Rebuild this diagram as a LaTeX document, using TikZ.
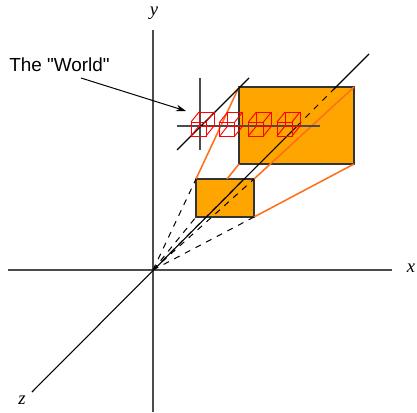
\documentclass[tikz,border=0pt]{standalone}
\usepackage{fontspec}
\newfontfamily\worldfont{Liberation Sans}
\newfontfamily\axisfont{Liberation Serif}
\usepackage{tikz}
\usetikzlibrary{arrows.meta}
\definecolor{BoxOrange}{RGB}{255,165,0}
\definecolor{RayOrange}{RGB}{255,110,25}
\tikzset{
  axis/.style={draw=black!70,line width=1pt},
  zaxis/.style={draw=black,line width=0.8pt},
  ray/.style={draw=black,line width=0.75pt,dash pattern=on 4.5pt off 4.5pt},
  frust/.style={draw=RayOrange,line width=1.15pt},
  screen/.style={draw=black!80,fill=BoxOrange,line width=0.8pt},
  cube/.style={draw=red,line width=0.7pt},
  axlabel/.style={font=\axisfont\itshape\fontsize{14}{16}\selectfont,inner sep=0pt},
}

\begin{document}
\begin{tikzpicture}[x=0.75pt,y=-0.75pt]
  \useasboundingbox (0,0) rectangle (417,413);
  \coordinate (o) at (153,270);
  % far and near screens
  \coordinate (fa) at (239,87);
  \coordinate (fb) at (354,87);
  \coordinate (fc) at (354,164);
  \coordinate (fd) at (239,164);
  \coordinate (na) at (196,179);
  \coordinate (nb) at (254,179);
  \coordinate (nc) at (254,217);
  \coordinate (nd) at (196,217);
  \coordinate (nt) at (227,179);
  \draw[screen] (fa) rectangle (fc);
  \draw[screen] (na) rectangle (nc);
  \foreach \i/\j in {na/fa,nb/fb,nc/fc,nt/fd}
    \draw[frust] (\i)--(\j);
  % main axes
  \coordinate (xl) at (8,270);
  \coordinate (xr) at (392,270);
  \coordinate (yt) at (153,30);
  \coordinate (yb) at (153,412);
  \coordinate (zb) at (32,392);
  \coordinate (zm) at (297,126);
  \coordinate (zn) at (333,90);
  \coordinate (zt) at (369,54);
  \draw[axis] (xl)--(xr);
  \draw[axis] (yt)--(yb);
  \draw[zaxis] (zb)--(zm);
  \draw[ray] (zm)--(zn);
  \draw[zaxis] (zn)--(zt);
  \node[axlabel] (xlabel) at (411,268) {x};
  \node[axlabel] (ylabel) at (154,13) {y};
  \node[axlabel] (zlabel) at (22,400) {z};
  % rays from the origin
  \coordinate (nm) at (242,181);
  \foreach \j in {na,nb,nc,nd,nm}
    \draw[ray] (o)--(\j);
  % the small axes
  \coordinate (wl) at (177,126);
  \coordinate (wr) at (320,126);
  \coordinate (wt) at (200,78);
  \coordinate (wb) at (200,150);
  \coordinate (wzb) at (177,150);
  \coordinate (wzt) at (249,78);
  \draw[axis] (wl)--(wr);
  \draw[axis] (wt)--(wb);
  \draw[zaxis] (wzb)--(wzt);
  % row of cubes
  \foreach \x in {191,219.7,248.4,277}{
    \draw[cube] (\x,122) rectangle ++(15,14);
    \draw[cube] (\x+8,112) rectangle ++(15,14);
    \draw[cube] (\x,122)--++(8,-10) (\x+15,122)--++(8,-10)
      (\x+15,136)--++(8,-10) (\x,136)--++(8,-10);
  }
  \node[font=\worldfont\fontsize{14.2}{16}\selectfont,anchor=base west,inner sep=0pt] (world) at (9,72) {The "World"};
  \coordinate (wtail) at (81,78);
  \coordinate (wtip) at (186,111);
  \draw[-{Stealth[length=7.5pt,width=5pt]},line width=0.75pt] (wtail)--(wtip);
\end{tikzpicture}
\end{document}
